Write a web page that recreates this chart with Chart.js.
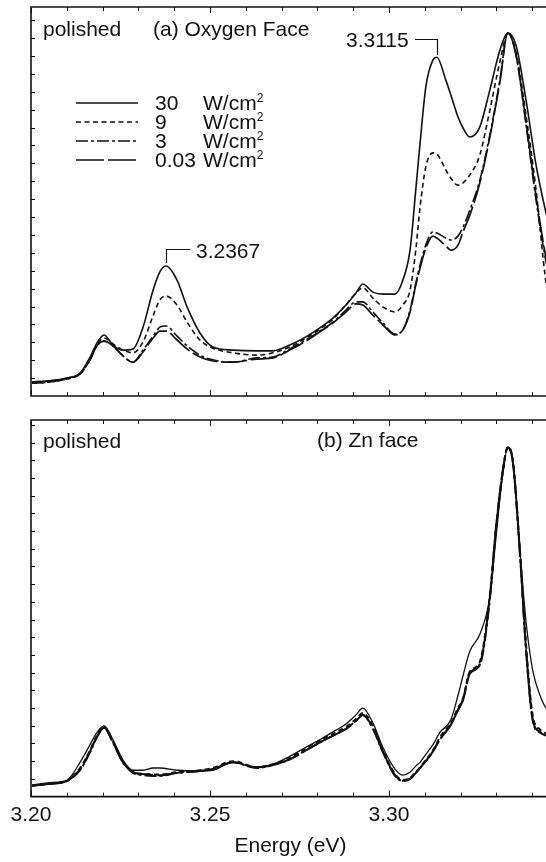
<!DOCTYPE html>
<html>
<head>
<meta charset="utf-8">
<script src="https://cdn.jsdelivr.net/npm/chart.js@4.4.1/dist/chart.umd.min.js"></script>
<style>
  html, body { margin: 0; padding: 0; background: #fff; overflow: hidden; }
  #wrap { position: relative; width: 546px; height: 862px; overflow: hidden;
          font-family: "Liberation Sans", Arial, sans-serif; color: #111; }
  canvas { position: absolute; left: 0; }
  .lbl { position: absolute; font-size: 21px; line-height: 21px; white-space: nowrap; }
  .lbl sup { font-size: 12px; line-height: 0; vertical-align: baseline; position: relative; top: -8px; }
  svg.over { position: absolute; left: 0; top: 0; }
</style>
</head>
<body>
<div id="wrap">
  <canvas id="oxyChart" width="600" height="410" style="top:0"></canvas>
  <canvas id="znChart" width="600" height="452" style="top:410px"></canvas>

  <svg class="over" width="546" height="862" fill="none" stroke="#111">
    <!-- peak markers -->
    <polyline points="415,39.5 437.5,39.5 437.5,55" stroke-width="1.2"/>
    <polyline points="190,249.5 166.5,249.5 166.5,263" stroke-width="1.2"/>
    <!-- legend samples -->
    <line x1="76" y1="103" x2="138" y2="103" stroke-width="1.6"/>
    <line x1="76" y1="122" x2="138" y2="122" stroke-width="1.6" stroke-dasharray="5,3.5"/>
    <line x1="76" y1="141" x2="138" y2="141" stroke-width="1.6" stroke-dasharray="12,3,3,3"/>
    <line x1="76" y1="160" x2="138" y2="160" stroke-width="1.6" stroke-dasharray="28,4"/>
  </svg>

  <div class="lbl" style="left:43px;top:18px">polished</div>
  <div class="lbl" style="left:153px;top:18px">(a) Oxygen Face</div>
  <div class="lbl" style="left:346px;top:29px">3.3115</div>
  <div class="lbl" style="left:196px;top:240px">3.2367</div>
  <div id="legend"></div>
  <div class="lbl" style="left:43px;top:430px">polished</div>
  <div class="lbl" style="left:317px;top:429px">(b) Zn face</div>
</div>

<script>
// (a) oxygen face, photon energy in eV and PL intensity (arb. units)
const energyA = [3.2003, 3.2053, 3.2101, 3.2137, 3.2165, 3.2184, 3.2204, 3.2229, 3.2257, 3.2285,
  3.2313, 3.2341, 3.2360, 3.2377, 3.2408, 3.2436, 3.2472, 3.2508, 3.2564, 3.2631,
  3.2676, 3.2723, 3.2768, 3.2807, 3.2844, 3.2880, 3.2908, 3.2927, 3.2955, 3.2983,
  3.3017, 3.3039, 3.3059, 3.3075, 3.3087, 3.3103, 3.3123, 3.3134, 3.3159, 3.3173,
  3.3193, 3.3207, 3.3226, 3.3254, 3.3282, 3.3310, 3.3332, 3.3355, 3.3383, 3.3411,
  3.3439, 3.3466];
const oxy30 = [3.6, 3.9, 4.6, 5.9, 10.0, 13.6, 15.7, 13.1, 11.8, 12.1,
  17.7, 27.2, 31.9, 33.4, 29.8, 22.9, 16.2, 12.6, 11.8, 11.6,
  11.6, 13.1, 15.2, 17.5, 20.1, 23.4, 26.5, 28.8, 26.7, 26.2,
  26.2, 29.8, 37.5, 53.0, 65.0, 79.4, 86.4, 87.1, 81.2, 77.4,
  71.7, 68.9, 66.6, 69.2, 78.7, 88.9, 93.3, 90.2, 76.1, 59.4,
  47.0, 37.5];
const oxy9 = [3.3, 3.6, 4.4, 5.7, 9.5, 13.1, 14.9, 13.4, 11.8, 11.1,
  13.9, 20.6, 24.7, 25.7, 23.4, 19.0, 14.4, 12.3, 11.1, 10.5,
  11.1, 12.6, 14.9, 17.2, 19.8, 23.4, 26.5, 27.8, 25.2, 22.9,
  21.6, 23.4, 27.2, 37.5, 48.6, 58.9, 62.5, 62.2, 58.1, 56.0,
  54.2, 54.8, 56.8, 62.0, 73.5, 85.9, 93.3, 88.4, 72.2, 53.0,
  29.0, 17.0];
const oxy3 = [3.3, 3.6, 4.4, 5.7, 9.3, 12.9, 14.1, 12.9, 10.3, 8.7,
  11.8, 15.4, 17.7, 18.0, 15.4, 12.9, 10.5, 9.3, 8.7, 9.8,
  10.0, 12.1, 14.4, 16.7, 19.0, 22.1, 24.2, 24.2, 21.6, 18.8,
  15.9, 17.0, 22.1, 29.0, 33.7, 38.8, 42.2, 41.9, 40.6, 40.1,
  41.1, 43.4, 47.8, 55.5, 67.1, 81.2, 93.3, 87.7, 69.7, 50.4,
  34.4, 24.7];
const oxy003 = [3.6, 3.9, 4.6, 5.7, 9.3, 12.9, 14.1, 12.9, 10.3, 8.7,
  11.3, 14.9, 16.7, 16.7, 14.4, 12.1, 10.0, 9.0, 8.7, 9.5,
  9.8, 11.8, 14.1, 16.5, 18.8, 21.6, 23.7, 23.4, 20.8, 18.3,
  15.7, 17.0, 21.6, 28.5, 32.9, 38.0, 41.1, 40.6, 38.6, 37.5,
  38.8, 42.2, 46.5, 54.8, 66.6, 80.7, 93.3, 87.7, 70.4, 51.4,
  35.5, 26.0];

// (b) Zn face
const energyB = [3.2003, 3.2053, 3.2101, 3.2137, 3.2165, 3.2184, 3.2204, 3.2229, 3.2257, 3.2285,
  3.2313, 3.2341, 3.2360, 3.2408, 3.2472, 3.2508, 3.2564, 3.2631, 3.2676, 3.2723,
  3.2768, 3.2807, 3.2844, 3.2880, 3.2908, 3.2927, 3.2955, 3.2983, 3.3017, 3.3039,
  3.3059, 3.3075, 3.3087, 3.3103, 3.3123, 3.3142, 3.3173, 3.3193, 3.3207, 3.3226,
  3.3254, 3.3282, 3.3299, 3.3318, 3.3332, 3.3346, 3.3366, 3.3383, 3.3402, 3.3422,
  3.3439, 3.3466];
const zn30 = [3.1, 3.7, 4.4, 9.1, 13.8, 17.0, 18.8, 15.1, 9.7, 7.0,
  7.0, 7.6, 7.6, 7.0, 6.8, 7.0, 9.1, 7.8, 8.6, 10.7,
  13.1, 15.1, 17.2, 19.3, 21.7, 23.5, 19.6, 13.1, 7.3, 5.7,
  6.5, 8.1, 9.1, 11.2, 13.8, 17.0, 20.4, 26.9, 32.1, 38.6,
  43.1, 53.0, 68.7, 85.6, 92.7, 89.6, 65.3, 46.5, 33.4, 26.9,
  23.5, 21.7];
const zn9 = [2.9, 3.4, 4.2, 7.6, 12.3, 16.2, 18.6, 14.6, 9.1, 6.5,
  6.0, 5.9, 5.9, 6.5, 7.0, 7.6, 9.4, 7.8, 8.6, 10.2,
  12.8, 14.9, 16.7, 18.5, 20.6, 22.2, 18.8, 12.3, 6.0, 4.4,
  5.0, 6.5, 7.8, 9.7, 12.3, 15.7, 19.6, 23.5, 26.1, 33.2,
  35.8, 53.5, 71.0, 86.2, 92.7, 89.3, 65.5, 40.5, 21.4, 17.8,
  16.8, 16.0];
const zn3 = [2.9, 3.4, 4.2, 7.0, 11.8, 15.7, 18.3, 14.4, 9.1, 6.3,
  5.7, 5.5, 5.5, 6.3, 6.8, 7.3, 9.1, 7.6, 8.4, 9.9,
  12.3, 14.4, 16.2, 18.0, 20.1, 21.7, 18.0, 11.8, 5.5, 4.2,
  4.7, 6.3, 7.6, 9.4, 12.0, 15.1, 19.1, 23.0, 25.8, 33.0,
  35.0, 52.5, 71.0, 86.4, 92.7, 89.0, 64.5, 39.0, 20.1, 17.0,
  16.2, 15.4];
const zn003 = [2.9, 3.4, 4.2, 7.3, 12.0, 15.9, 18.3, 14.4, 9.1, 6.5,
  6.0, 5.7, 5.7, 6.3, 6.8, 7.3, 9.1, 7.8, 8.4, 9.9,
  12.3, 14.4, 16.2, 18.0, 20.1, 21.7, 18.3, 12.0, 5.7, 4.2,
  4.7, 6.3, 7.6, 9.4, 12.0, 15.1, 19.1, 23.0, 25.6, 32.6,
  35.2, 53.0, 71.3, 86.4, 92.7, 89.0, 64.8, 39.2, 20.4, 17.2,
  16.4, 15.7];

const powerLabels = ['30', '9', '3', '0.03'];
const xTickLabels = ['3.20', '3.25', '3.30'];

const FONT = '"Liberation Sans", Arial, sans-serif';
const dashes = [[], [5, 3.5], [12, 3, 3, 3], [26, 4]];

// legend text
const legend = document.getElementById('legend');
powerLabels.forEach((p, i) => {
  const top = 92 + i * 19;
  legend.insertAdjacentHTML('beforeend',
    `<div class="lbl" style="left:155px;top:${top}px">${p}</div>` +
    `<div class="lbl" style="left:203px;top:${top}px">W/cm<sup>2</sup></div>`);
});

// box with inward ticks, like the original plot
const framePlugin = {
  id: 'frame',
  afterDatasetsDraw(chart, args, opts) {
    const { ctx, chartArea: a, scales: { x, y } } = chart;
    ctx.save();
    ctx.strokeStyle = '#111';
    ctx.lineWidth = 1.6;
    ctx.beginPath();
    ctx.moveTo(a.right, a.top);
    ctx.lineTo(a.left, a.top);
    ctx.lineTo(a.left, a.bottom);
    ctx.lineTo(a.right, a.bottom);
    ctx.stroke();

    ctx.lineWidth = 1;
    ctx.beginPath();
    for (let k = 0; k <= 14; k++) {
      const px = Math.round(x.getPixelForValue(3.20 + k * 0.01)) + 0.5;
      const len = k % 5 === 0 ? 6 : 4;
      ctx.moveTo(px, a.bottom); ctx.lineTo(px, a.bottom - len);
      ctx.moveTo(px, a.top); ctx.lineTo(px, a.top + len);
    }
    for (let v = opts.yStep; v < y.max; v += opts.yStep) {
      const py = Math.round(y.getPixelForValue(v)) + 0.5;
      ctx.moveTo(a.left, py); ctx.lineTo(a.left + 4, py);
    }
    ctx.stroke();
    ctx.restore();
  }
};

function panel(id, energy, series, cfg) {
  return new Chart(document.getElementById(id), {
    type: 'line',
    data: {
      datasets: series.map((vals, i) => ({
        label: powerLabels[i] + ' W/cm²',
        data: energy.map((e, j) => ({ x: e, y: vals[j] })),
        borderColor: '#111',
        borderWidth: cfg.widths[i],
        borderDash: dashes[i],
        pointRadius: 0,
        fill: false,
        cubicInterpolationMode: 'monotone'
      }))
    },
    options: {
      responsive: false,
      animation: false,
      layout: { padding: cfg.padding },
      plugins: {
        legend: { display: false },
        tooltip: { enabled: false },
        frame: { yStep: cfg.yStep }
      },
      scales: {
        x: {
          type: 'linear', min: 3.20, max: 3.345,
          display: cfg.showX,
          grid: { display: false, drawTicks: false },
          border: { display: false },
          ticks: {
            stepSize: 0.05, includeBounds: false, autoSkip: false, maxRotation: 0,
            color: '#111', padding: 6,
            font: { family: FONT, size: 21 },
            callback: v => xTickLabels.find(t => Math.abs(+t - v) < 1e-6) || ''
          },
          title: {
            display: true, text: 'Energy (eV)', color: '#111',
            font: { family: FONT, size: 21 },
            padding: { top: 0, bottom: 0 }
          }
        },
        y: { min: 0, max: 100, display: false }
      }
    },
    plugins: [framePlugin]
  });
}

panel('oxyChart', energyA, [oxy30, oxy9, oxy3, oxy003], {
  padding: { left: 31, right: 50, top: 7, bottom: 14 },
  widths: [1.6, 1.6, 1.6, 1.7],
  yStep: 4.6,
  showX: false
});

panel('znChart', energyB, [zn30, zn9, zn3, zn003], {
  padding: { left: 31, right: 50, top: 10, bottom: 3 },
  widths: [1.3, 2, 2, 2],
  yStep: 4.7,
  showX: true
});
</script>
</body>
</html>
